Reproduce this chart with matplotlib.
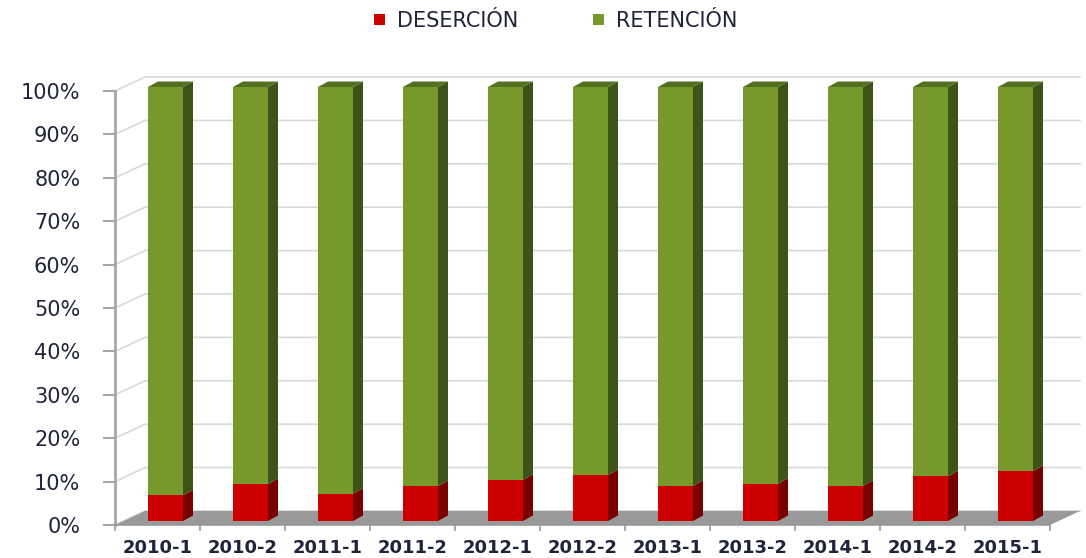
import numpy as np
import matplotlib
matplotlib.use("Agg")
import matplotlib.pyplot as plt
from matplotlib.patches import Polygon, Patch

# Data (percent of students)
periods = ["2010-1", "2010-2", "2011-1", "2011-2", "2012-1", "2012-2",
           "2013-1", "2013-2", "2014-1", "2014-2", "2015-1"]
desercion = [5.9, 8.5, 6.3, 8.0, 9.5, 10.6, 8.1, 8.6, 8.1, 10.3, 11.5]
retencion = [100 - d for d in desercion]
y_ticks = list(range(0, 101, 10))

RED, RED_SIDE = "#cc0000", "#7a0000"
GREEN, GREEN_SIDE, GREEN_TOP = "#77992b", "#3d5419", "#52701f"
TEXT = "#20243a"

fig = plt.figure(figsize=(10.86, 5.58), dpi=100)
W, H = 1086, 558
# front plane of the fake 3D box: x 115..1050 px, y 91..525 px
ax = fig.add_axes([115 / W, (H - 525) / H, 935 / W, 434 / H])
n = len(periods)
ax.set_xlim(-0.5, n - 0.5)
ax.set_ylim(0, 100)
ax.patch.set_alpha(0)

# pixel -> data helpers for the depth offsets
px_x = 935 / n
px_y = 434 / 100.0
def dx(p):
    return p / px_x
def dy(p):
    return p / px_y

floor_dx, floor_dy = dx(30), dy(14)

# back wall gridlines + left wall diagonals
for v in y_ticks:
    ax.plot([-0.5, -0.5 + floor_dx, n - 0.5 + floor_dx],
            [v, v + floor_dy, v + floor_dy],
            color="#d9d9d9", lw=1.2, clip_on=False, zorder=0)

# floor
ax.add_patch(Polygon([(-0.5, 0), (n - 0.5, 0), (n - 0.5 + floor_dx, floor_dy),
                      (-0.5 + floor_dx, floor_dy)],
                     closed=True, facecolor="#999999", edgecolor="none",
                     clip_on=False, zorder=1))

# bars
w = dx(35)
off_x, off_y = dx(8), dy(4)
bdx, bdy = dx(10), dy(5.5)
x = np.arange(n) + off_x
ax.bar(x, desercion, width=w, bottom=off_y, color=RED, zorder=3, clip_on=False)
ax.bar(x, retencion, width=w, bottom=[off_y + d for d in desercion],
       color=GREEN, zorder=3, clip_on=False)

for i in range(n):
    xl, xr = x[i] - w / 2, x[i] + w / 2
    segs = [(off_y, off_y + desercion[i], RED_SIDE),
            (off_y + desercion[i], off_y + 100, GREEN_SIDE)]
    for ya, yb, c in segs:
        ax.add_patch(Polygon([(xr, ya), (xr + bdx, ya + bdy), (xr + bdx, yb + bdy), (xr, yb)],
                             closed=True, facecolor=c, edgecolor="none",
                             clip_on=False, zorder=3))
    top = off_y + 100
    ax.add_patch(Polygon([(xl, top), (xr, top), (xr + bdx, top + bdy), (xl + bdx, top + bdy)],
                         closed=True, facecolor=GREEN_TOP, edgecolor="none",
                         clip_on=False, zorder=3))

# axes styling
for s in ["top", "right"]:
    ax.spines[s].set_visible(False)
ax.spines["left"].set_color("#a6a6a6")
ax.spines["left"].set_linewidth(2)
ax.spines["bottom"].set_color("#999999")
ax.spines["bottom"].set_linewidth(1.2)

ax.set_yticks(y_ticks)
ax.set_yticklabels([f"{v}%" for v in y_ticks], fontsize=15, color=TEXT)
ax.tick_params(axis="y", length=9, width=1.5, color="#a6a6a6", pad=16)

ax.set_xticks(np.arange(n))
ax.set_xticklabels(periods, fontsize=13, fontweight="bold", color=TEXT)
ax.set_xticks(np.arange(n + 1) - 0.5, minor=True)
ax.tick_params(axis="x", which="major", length=0, pad=10)
ax.tick_params(axis="x", which="minor", length=4, width=1.2, color="#999999")

handles = [Patch(facecolor=RED), Patch(facecolor=GREEN)]
leg = fig.legend(handles, ["DESERCIÓN", "RETENCIÓN"], loc="upper center",
                 bbox_to_anchor=(0.512, 1.014), ncol=2, frameon=False, fontsize=15,
                 handlelength=0.5, handleheight=0.5, handletextpad=0.6,
                 columnspacing=3.6)
for t in leg.get_texts():
    t.set_color(TEXT)

fig.savefig("out.png", dpi=100)
